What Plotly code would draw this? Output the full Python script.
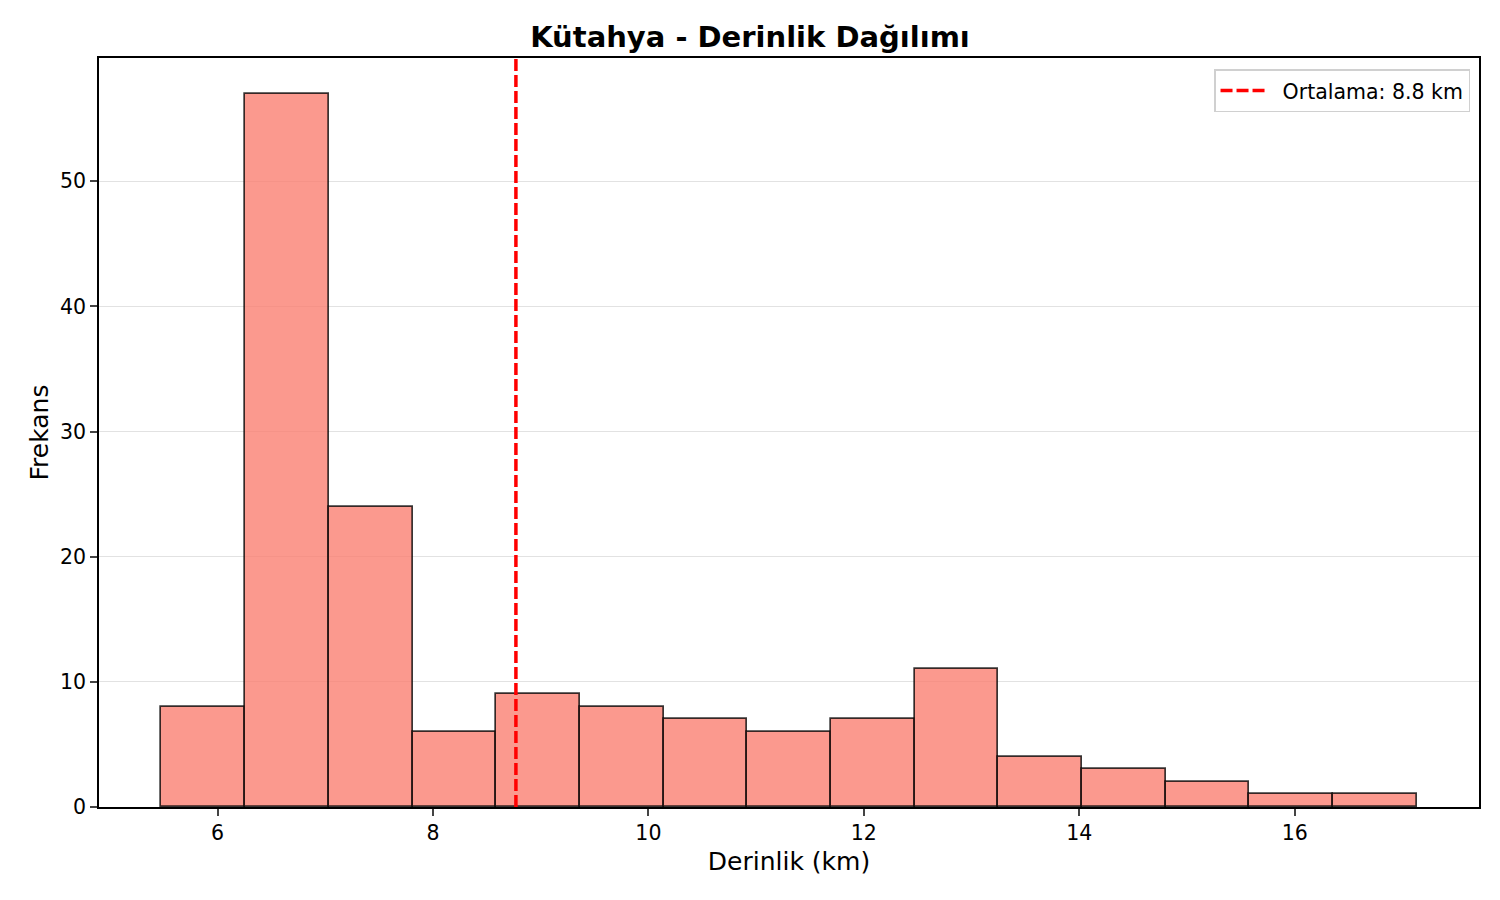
import plotly.graph_objects as go

# histogram bins (km)
bin_start = 5.48
bin_width = 0.7767
counts = [8, 57, 24, 6, 9, 8, 7, 6, 7, 11, 4, 3, 2, 1, 1]
mean_depth = 8.77

centers = [bin_start + bin_width * (i + 0.5) for i in range(len(counts))]

bars = go.Bar(
    x=centers, y=counts, width=bin_width,
    marker=dict(color="rgba(250,128,114,0.8)",
                line=dict(color="rgba(0,0,0,0.78)", width=1.7)),
    showlegend=False, hoverinfo="x+y",
)

# mean line, drawn as a trace so it shows in the legend
mean_line = go.Scatter(
    x=[mean_depth, mean_depth], y=[0, 59.85], mode="lines",
    line=dict(color="red", width=3.5, dash="12px,4px"),
    name="\u00a0\u00a0Ortalama: %.1f km" % mean_depth,
)

fig = go.Figure(data=[bars, mean_line])
# page body has an 8px margin, so the figure is a bit smaller than the window
fig.update_layout(
    width=1484, height=884,
    paper_bgcolor="white", plot_bgcolor="white",
    font=dict(family="DejaVu Sans", color="black"),
    margin=dict(l=91, r=13, t=50, b=85),
    bargap=0,
    title=dict(text="<b>Kütahya - Derinlik Dağılımı</b>", x=0.5, xanchor="center",
               y=0.967, yanchor="middle", font=dict(size=29)),
    xaxis=dict(title=dict(text="Derinlik (km)", font=dict(size=25), standoff=8),
               range=[4.90, 17.71], tickvals=[6, 8, 10, 12, 14, 16],
               tickfont=dict(size=20.5), ticks="outside", ticklen=7, tickwidth=1.5,
               showline=True, linecolor="black", linewidth=1.7, mirror=True,
               showgrid=False, zeroline=False),
    yaxis=dict(title=dict(text="Frekans", font=dict(size=25), standoff=4),
               range=[0, 59.85], tickvals=[0, 10, 20, 30, 40, 50],
               tickfont=dict(size=20.5), ticks="outside", ticklen=7, tickwidth=1.5,
               showline=True, linecolor="black", linewidth=1.7, mirror=True,
               showgrid=True, gridcolor="#e2e2e2", gridwidth=1.3, zeroline=False),
    legend=dict(x=0.9935, y=0.985, xanchor="right", yanchor="top",
                bgcolor="rgba(255,255,255,0.8)", bordercolor="#d0d0d0",
                borderwidth=1.5, font=dict(size=20.5), itemwidth=44),
)

fig.write_html("out.html")
